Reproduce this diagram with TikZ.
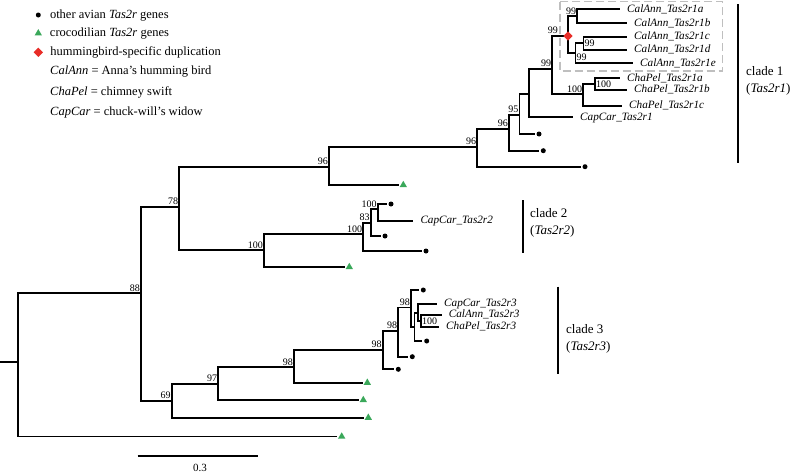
\documentclass[tikz,border=0pt]{standalone}
\usepackage{fontspec}
\setmainfont{Liberation Serif}
\usepackage{tikz}
\usetikzlibrary{positioning, shapes.geometric}

\definecolor{crocgreen}{RGB}{58,168,90}
\definecolor{dupred}{RGB}{232,45,40}

\begin{document}
\begin{tikzpicture}[
  x=1pt, y=-1pt,
  branch/.style={line width=1.8pt},
  avdot/.style={circle, fill=black, inner sep=0pt, minimum size=5pt, outer sep=2pt},
  croc/.style={regular polygon, regular polygon sides=3, fill=crocgreen, inner sep=0pt, minimum size=8.5pt, outer sep=2pt},
  dup/.style={diamond, fill=dupred, inner sep=0pt, minimum size=9.5pt},
  boot/.style={font=\fontsize{10}{12}\selectfont, inner xsep=1pt, inner ysep=2pt},
  leaf/.style={font=\fontsize{11.2}{13}\selectfont\itshape, anchor=west, inner xsep=7pt, inner ysep=1pt, text height=8pt, text depth=2.5pt},
  legtext/.style={font=\fontsize{12.5}{15}\selectfont, anchor=west, inner sep=0pt, text height=9pt, text depth=3pt},
  clade/.style={font=\fontsize{13}{17}\selectfont, align=left, anchor=west, inner sep=0pt},
  cladebar/.style={line width=1.8pt},
  hbox/.style={draw=black!25, dash pattern=on 8pt off 4pt, line width=1.2pt}
]
  \useasboundingbox (0,0) rectangle (794,474);

  \node[avdot, outer sep=0pt] (ldot) at (38.3,15) {};
  \node[croc, outer sep=0pt] (ltri) at (38.3,33.3) {};
  \node[dup] (ldia) at (38.3,52.3) {};
  \node[legtext, right=9pt of ldot] (lt1) {other avian \textit{Tas2r} genes};
  \node[legtext, right=9pt of ltri] (lt2) {crocodilian \textit{Tas2r} genes};
  \node[legtext, right=7pt of ldia] (lt3) {hummingbird-specific duplication};
  \node[legtext] (lt4) at (50,71.7) {\textit{CalAnn} = Anna's humming bird};
  \node[legtext] (lt5) at (50,92.3) {\textit{ChaPel} = chimney swift};
  \node[legtext] (lt6) at (50,112.3) {\textit{CapCar} = chuck-will's widow};

  \draw[hbox] (560,1.5) rectangle (722.7,71);

  \coordinate (r0) at (0,361.7);
  \coordinate (r) at (18.3,361.7);
  \coordinate (n88) at (141,293.3);
  \coordinate (n78) at (179.3,207);
  \coordinate (n69) at (171.7,400.7);
  \coordinate (n96a) at (329,166.7);
  \coordinate (n100a) at (264,250.3);
  \coordinate (n96b) at (477.3,146.7);
  \coordinate (n96c) at (509,129);
  \coordinate (n95) at (519.5,115);
  \coordinate (n99a) at (529.3,94);
  \coordinate (n99b) at (552.3,69);
  \coordinate (ndup) at (568,36);
  \coordinate (n99e) at (577.3,16.3);
  \coordinate (n99f) at (575.5,53.2);
  \coordinate (n99g) at (583.5,43.3);
  \coordinate (n100b) at (583.3,94.3);
  \coordinate (n100c) at (595,84.2);
  \coordinate (n100d) at (363.3,234.3);
  \coordinate (n83) at (370.7,222.7);
  \coordinate (n100e) at (377.7,209.3);
  \coordinate (n97) at (218.3,384);
  \coordinate (n98a) at (294,367.3);
  \coordinate (n98b) at (382.7,350);
  \coordinate (n98c) at (398.3,331);
  \coordinate (n98d) at (411,307.5);
  \coordinate (nx) at (414.5,326.7);
  \coordinate (ny) at (418.3,312.7);
  \coordinate (nz) at (421,321);

  \node[leaf] (ca1a) at (620,9.3) {CalAnn\_Tas2r1a};
  \node[leaf] (ca1b) at (627,23.3) {CalAnn\_Tas2r1b};
  \node[leaf] (ca1c) at (627,36.7) {CalAnn\_Tas2r1c};
  \node[leaf] (ca1d) at (627,50) {CalAnn\_Tas2r1d};
  \node[leaf] (ca1e) at (633,63.3) {CalAnn\_Tas2r1e};
  \node[leaf] (cp1a) at (620,78.3) {ChaPel\_Tas2r1a};
  \node[leaf] (cp1b) at (627,90) {ChaPel\_Tas2r1b};
  \node[leaf] (cp1c) at (622,106) {ChaPel\_Tas2r1c};
  \node[leaf] (cc1) at (573,117.3) {CapCar\_Tas2r1};
  \node[leaf] (cc2) at (413.3,220.7) {CapCar\_Tas2r2};
  \node[leaf] (cc3) at (437,304) {CapCar\_Tas2r3};
  \node[leaf] (ca3) at (441.7,315) {CalAnn\_Tas2r3};
  \node[leaf] (cp3) at (439,326.7) {ChaPel\_Tas2r3};

  \node[avdot] (d1) at (585,166.7) {};
  \node[avdot] (d2) at (543.3,150.7) {};
  \node[avdot] (d3) at (539,134) {};
  \node[avdot] (d4) at (426,251) {};
  \node[avdot] (d5) at (385,236) {};
  \node[avdot] (d6) at (391,204) {};
  \node[avdot] (d7) at (398.3,369.3) {};
  \node[avdot] (d8) at (412.3,356.7) {};
  \node[avdot] (d9) at (423.3,290) {};
  \node[avdot] (d10) at (426.7,341) {};
  \node[croc] (t1) at (341.7,436.5) {};
  \node[croc] (t2) at (403.3,185) {};
  \node[croc] (t3) at (349.3,267) {};
  \node[croc] (t4) at (368.3,417.7) {};
  \node[croc] (t5) at (363.3,400) {};
  \node[croc] (t6) at (367.3,382.7) {};

  \draw[branch] (r0) -- (r);
  \draw[branch] (r) |- (n88);
  \draw[branch] (r) |- (t1);
  \draw[branch] (n88) |- (n78);
  \draw[branch] (n88) |- (n69);
  \draw[branch] (n78) |- (n96a);
  \draw[branch] (n78) |- (n100a);
  \draw[branch] (n96a) |- (n96b);
  \draw[branch] (n96a) |- (t2);
  \draw[branch] (n96b) |- (n96c);
  \draw[branch] (n96b) |- (d1);
  \draw[branch] (n96c) |- (n95);
  \draw[branch] (n96c) |- (d2);
  \draw[branch] (n95) |- (n99a);
  \draw[branch] (n95) |- (d3);
  \draw[branch] (n99a) |- (n99b);
  \draw[branch] (n99a) |- (cc1);
  \draw[branch] (n99b) |- (ndup);
  \draw[branch] (n99b) |- (n100b);
  \draw[branch] (ndup) |- (n99e);
  \draw[branch] (ndup) |- (n99f);
  \draw[branch] (n99e) |- (ca1a);
  \draw[branch] (n99e) |- (ca1b);
  \draw[branch] (n99f) |- (n99g);
  \draw[branch] (n99f) |- (ca1e);
  \draw[branch] (n99g) |- (ca1c);
  \draw[branch] (n99g) |- (ca1d);
  \draw[branch] (n100b) |- (n100c);
  \draw[branch] (n100b) |- (cp1c);
  \draw[branch] (n100c) |- (cp1a);
  \draw[branch] (n100c) |- (cp1b);

  \draw[branch] (n100a) |- (n100d);
  \draw[branch] (n100a) |- (t3);
  \draw[branch] (n100d) |- (n83);
  \draw[branch] (n100d) |- (d4);
  \draw[branch] (n83) |- (n100e);
  \draw[branch] (n83) |- (d5);
  \draw[branch] (n100e) |- (d6);
  \draw[branch] (n100e) |- (cc2);

  \draw[branch] (n69) |- (n97);
  \draw[branch] (n69) |- (t4);
  \draw[branch] (n97) |- (n98a);
  \draw[branch] (n97) |- (t5);
  \draw[branch] (n98a) |- (n98b);
  \draw[branch] (n98a) |- (t6);
  \draw[branch] (n98b) |- (n98c);
  \draw[branch] (n98b) |- (d7);
  \draw[branch] (n98c) |- (n98d);
  \draw[branch] (n98c) |- (d8);
  \draw[branch] (n98d) |- (d9);
  \draw[branch] (n98d) |- (nx);
  \draw[branch] (nx) |- (ny);
  \draw[branch] (nx) |- (d10);
  \draw[branch] (ny) |- (cc3);
  \draw[branch] (ny) |- (nz);
  \draw[branch] (nz) |- (ca3);
  \draw[branch] (nz) |- (cp3);

  \node[dup] (dupmark) at (ndup) {};

  \node[boot, anchor=south east] (b88) at (n88) {88};
  \node[boot, anchor=south east] (b78) at (n78) {78};
  \node[boot, anchor=south east] (b69) at (n69) {69};
  \node[boot, anchor=south east] (b96a) at (n96a) {96};
  \node[boot, anchor=south east] (b100a) at (n100a) {100};
  \node[boot, anchor=south east] (b96b) at (n96b) {96};
  \node[boot, anchor=south east] (b96c) at (n96c) {96};
  \node[boot, anchor=south east] (b95) at (n95) {95};
  \node[boot, anchor=south east] (b99b) at (n99b) {99};
  \node[boot, anchor=south east] (bdup) at (559,36) {99};
  \node[boot, anchor=south east] (b99e) at (n99e) {99};
  \node[boot, anchor=west] (b99f) at (575.5,57) {99};
  \node[boot, anchor=west] (b99g) at (n99g) {99};
  \node[boot, anchor=south east] (b100b) at (n100b) {100};
  \node[boot, anchor=west] (b100c) at (n100c) {100};
  \node[boot, anchor=south east] (b100d) at (n100d) {100};
  \node[boot, anchor=south east] (b83) at (n83) {83};
  \node[boot, anchor=south east] (b100e) at (n100e) {100};
  \node[boot, anchor=south east] (b97) at (n97) {97};
  \node[boot, anchor=south east] (b98a) at (n98a) {98};
  \node[boot, anchor=south east] (b98b) at (n98b) {98};
  \node[boot, anchor=south east] (b98c) at (n98c) {98};
  \node[boot, anchor=south east] (b98d) at (n98d) {98};
  \node[boot, anchor=west] (bz) at (nz) {100};

  \coordinate (c1a) at (737.7,4);
  \coordinate (c1b) at (737.7,162.7);
  \coordinate (c2a) at (523.3,200);
  \coordinate (c2b) at (523.3,252.7);
  \coordinate (c3a) at (557.7,286.7);
  \coordinate (c3b) at (557.7,374);
  \draw[cladebar] (c1a) -- (c1b);
  \draw[cladebar] (c2a) -- (c2b);
  \draw[cladebar] (c3a) -- (c3b);
  \node[clade] (cl1) at (746,80.5) {clade 1\\(\textit{Tas2r1})};
  \node[clade] (cl2) at (530,223) {clade 2\\(\textit{Tas2r2})};
  \node[clade] (cl3) at (566,339) {clade 3\\(\textit{Tas2r3})};

  \coordinate (sb1) at (137.7,456);
  \coordinate (sb2) at (257.7,456);
  \draw[branch] (sb1) -- (sb2);
  \node[font=\fontsize{11}{13}\selectfont] (sbl) at (200,468.3) {0.3};
\end{tikzpicture}
\end{document}
